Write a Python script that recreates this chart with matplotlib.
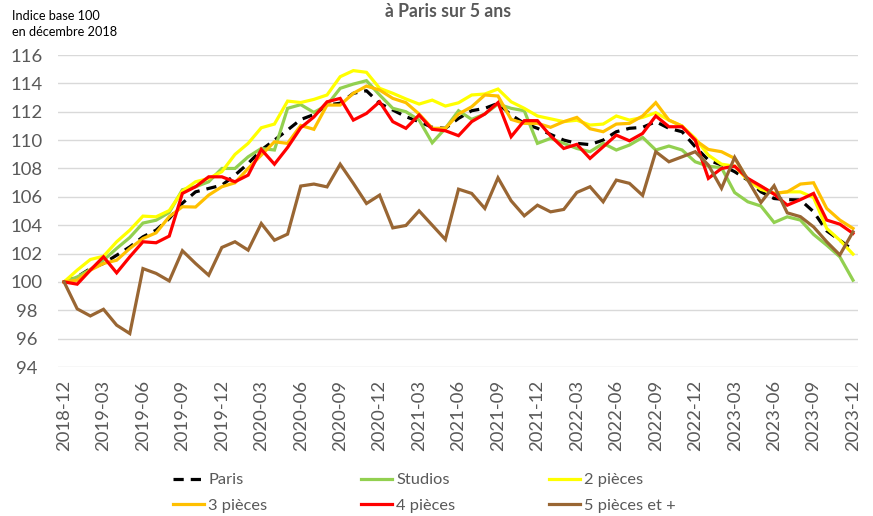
import matplotlib
matplotlib.use("Agg")
import matplotlib.pyplot as plt
import pandas as pd

months = [p.strftime("%Y-%m") for p in pd.period_range("2018-12", "2023-12", freq="M")]

paris = [100, 100.35, 100.94, 101.3, 101.88, 102.47, 103.18, 103.65, 104.47, 105.55,
         106.35, 106.59, 106.82, 107.53, 108.35, 109.3, 110.0, 110.71, 111.45, 111.8,
         112.47, 112.6, 113.3, 113.48, 112.59, 112.12, 111.65, 111.3, 110.9, 110.83,
         111.53, 112.07, 112.24, 112.59, 111.77, 111.18, 110.83, 110.4, 110.0, 109.77,
         109.68, 110.0, 110.59, 110.83, 110.9, 111.3, 110.83, 110.59, 109.53, 108.59,
         108.24, 107.77, 107.18, 106.35, 105.88, 105.8, 105.78, 104.95, 103.6, 102.94,
         102.24]
studios = [100, 100.35, 100.88, 101.53, 102.36, 103.13, 104.15, 104.35, 104.9, 106.5,
           106.71, 107.06, 108.0, 108.0, 108.82, 109.41, 109.3, 112.24, 112.5, 111.95,
           112.47, 113.65, 113.95, 114.19, 113.18, 112.24, 112.0, 111.41, 109.81, 110.83,
           112.07, 111.46, 111.84, 112.54, 112.24, 112.07, 109.77, 110.12, 109.77, 109.41,
           109.18, 109.77, 109.3, 109.65, 110.19, 109.3, 109.58, 109.3, 108.47, 108.16,
           108.05, 106.3, 105.65, 105.35, 104.19, 104.59, 104.36, 103.35, 102.59, 101.77,
           100.12]
p2 = [100, 100.83, 101.58, 101.81, 102.83, 103.65, 104.64, 104.59, 105.03, 106.4,
      107.06, 107.3, 107.77, 108.99, 109.77, 110.87, 111.13, 112.75, 112.65, 112.87,
      113.18, 114.47, 114.9, 114.78, 113.65, 113.3, 112.9, 112.54, 112.82, 112.4,
      112.63, 113.18, 113.25, 113.6, 112.7, 112.24, 111.7, 111.5, 111.3, 111.4,
      111.06, 111.13, 111.7, 111.41, 111.6, 111.93, 111.41, 110.99, 110.12, 108.94,
      108.3, 108.16, 107.18, 106.52, 106.24, 106.35, 106.35, 105.95, 103.77, 102.94,
      101.96]
p3 = [100, 100.12, 100.83, 101.3, 101.53, 102.36, 103.06, 103.46, 104.6, 105.3,
      105.28, 106.12, 106.71, 106.99, 108.0, 108.94, 109.88, 109.77, 111.03, 110.76,
      112.47, 112.47, 113.3, 113.81, 113.53, 112.94, 112.64, 111.84, 110.83, 110.83,
      111.84, 112.35, 113.18, 113.11, 111.46, 111.18, 111.18, 110.9, 111.3, 111.6,
      110.8, 110.59, 111.13, 111.18, 111.7, 112.64, 111.41, 110.99, 110.0, 109.34,
      109.18, 108.71, 107.23, 106.71, 106.24, 106.35, 106.9, 106.99, 105.18, 104.36,
      103.77]
p4 = [100, 99.84, 100.83, 101.77, 100.64, 101.77, 102.83, 102.76, 103.23, 106.24,
      106.71, 107.41, 107.41, 107.06, 107.53, 109.34, 108.3, 109.48, 110.87, 111.63,
      112.7, 112.94, 111.41, 111.88, 112.7, 111.3, 110.83, 111.77, 110.76, 110.66,
      110.31, 111.3, 111.84, 112.64, 110.24, 111.37, 111.37, 110.3, 109.41, 109.7,
      108.71, 109.53, 110.35, 109.95, 110.47, 111.7, 110.94, 110.94, 110.0, 107.3,
      108.0, 108.16, 107.3, 106.76, 106.19, 105.41, 105.8, 106.24, 104.36, 104.07,
      103.42]
p5 = [100, 98.1, 97.6, 98.07, 96.95, 96.36, 100.94, 100.6, 100.07, 102.2,
      101.3, 100.47, 102.43, 102.83, 102.24, 104.12, 102.94, 103.37, 106.76, 106.9,
      106.7, 108.3, 106.95, 105.53, 106.12, 103.81, 103.98, 105.01, 104.0, 102.99,
      106.54, 106.24, 105.18, 107.34, 105.72, 104.66, 105.41, 104.94, 105.11, 106.31,
      106.71, 105.65, 107.18, 106.95, 106.1, 109.18, 108.47, 108.82, 109.18, 108.24,
      106.6, 108.78, 107.18, 105.6, 106.78, 104.87, 104.6, 103.88, 102.83, 101.9,
      103.53]

series_names = ["Paris", "Studios", "2 pièces", "3 pièces", "4 pièces", "5 pièces et +"]
series_values = [paris, studios, p2, p3, p4, p5]
colors = ["#000000", "#92D050", "#FFFF00", "#FFC000", "#FF0000", "#996633"]
yticks = [94, 96, 98, 100, 102, 104, 106, 108, 110, 112, 114, 116]

FONT = ["Lato", "DejaVu Sans"]
plt.rcParams["font.family"] = FONT
GREY = "#595959"

W, H = 873, 516
fig = plt.figure(figsize=(W / 100, H / 100), dpi=100)
ax = fig.add_axes([58 / W, 1 - 367 / H, 800 / W, 312 / H])

x = list(range(len(months)))
handles = []
for name, vals, c in zip(series_names, series_values, colors):
    if name == "Paris":
        ln, = ax.plot(x, vals, color=c, lw=2.3, dashes=(3.2, 2.2),
                      dash_capstyle="butt", solid_joinstyle="miter", label=name)
    else:
        ln, = ax.plot(x, vals, color=c, lw=2.3, solid_joinstyle="miter", label=name)
    handles.append(ln)

ax.set_xlim(-0.46, 60.38)
ax.set_ylim(94, 116)
ax.set_yticks(yticks)
ax.set_yticklabels([str(v) for v in yticks])
ax.set_xticks(x[::3])
ax.set_xticklabels(months[::3], rotation=90, ha="center", va="top")
ax.tick_params(axis="y", length=0, pad=22.3, labelsize=13.3, labelcolor=GREY)
for t in ax.get_yticklabels():
    t.set_horizontalalignment("center")
ax.tick_params(axis="x", length=0, pad=9.4, labelsize=13.3, labelcolor=GREY)
ax.grid(axis="y", color="#D9D9D9", lw=1.0)
ax.set_axisbelow(True)
for s in ax.spines.values():
    s.set_visible(False)

fig.text(12 / W, 1 - 20.5 / H, "Indice base 100", fontsize=9.2,
         color="#000000", ha="left", va="baseline")
fig.text(12 / W, 1 - 36.5 / H, "en décembre 2018", fontsize=9.2,
         color="#000000", ha="left", va="baseline")
fig.text(448 / W, 1 - 16.7 / H, "à Paris sur 5 ans", fontsize=12.7, fontweight="bold",
         color=GREY, ha="center", va="baseline")

order = [0, 3, 1, 4, 2, 5]
leg = fig.legend([handles[i] for i in order], [series_names[i] for i in order],
                 ncol=3, loc="upper left", bbox_to_anchor=(173 / W, 1 - 473 / H),
                 bbox_transform=fig.transFigure, frameon=False, borderpad=0,
                 borderaxespad=0, handlelength=1.9, handletextpad=0.25,
                 columnspacing=5.7, labelspacing=0.68, fontsize=11.8)
for t in leg.get_texts():
    t.set_color(GREY)

fig.savefig("out.png", dpi=100)
